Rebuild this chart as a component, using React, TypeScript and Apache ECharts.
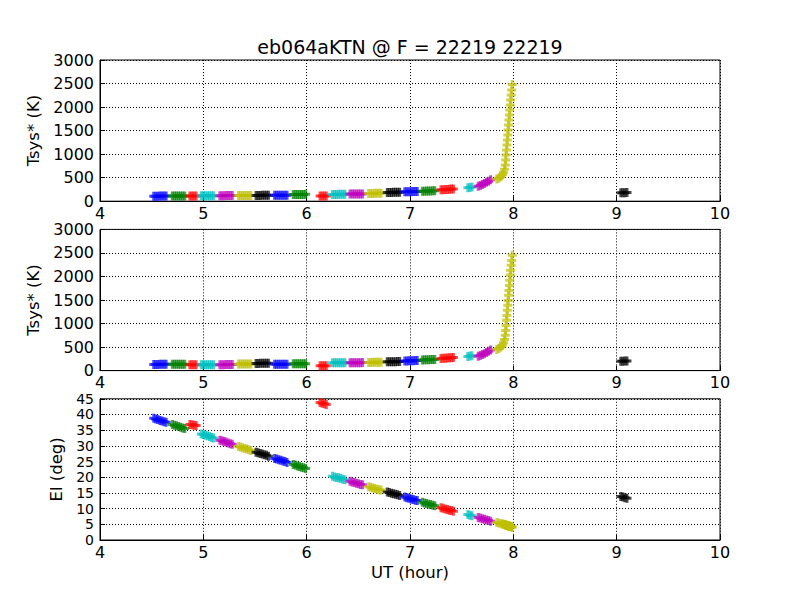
import React, { useEffect, useRef } from "react";
import * as echarts from "echarts";

// ---- data ----
const TITLE = "eb064aKTN @ F = 22219 22219";
const X_LABEL = "UT (hour)";
const Y_LABEL_TSYS = "Tsys* (K)";
const Y_LABEL_EL = "El (deg)";

// matplotlib colour cycle b, g, r, c, m, y, k
const SCAN_COLORS = ["#0000ff", "#008000", "#ff0000", "#00bfbf", "#bf00bf", "#bfbf00", "#000000"];

// UT (hours) of each sample, one array per scan
const UT_SCANS: number[][] = [
  [4.52, 4.54, 4.56, 4.58, 4.6, 4.62, 4.64],
  [4.7, 4.72, 4.74, 4.76, 4.78, 4.8, 4.82],
  [4.87, 4.89, 4.91, 4.93],
  [4.98, 5.0, 5.02, 5.04, 5.06, 5.08, 5.1],
  [5.16, 5.18, 5.2, 5.22, 5.24, 5.26, 5.28],
  [5.34, 5.36, 5.38, 5.4, 5.42, 5.44, 5.46],
  [5.51, 5.53, 5.55, 5.57, 5.59, 5.61, 5.63],
  [5.69, 5.71, 5.73, 5.75, 5.77, 5.79, 5.81],
  [5.87, 5.89, 5.91, 5.93, 5.95, 5.97, 5.99],
  [6.13, 6.15, 6.17, 6.19],
  [6.25, 6.27, 6.29, 6.31, 6.33, 6.35, 6.37],
  [6.42, 6.44, 6.46, 6.48, 6.5, 6.52, 6.54],
  [6.6, 6.62, 6.64, 6.66, 6.68, 6.7, 6.72],
  [6.78, 6.8, 6.82, 6.84, 6.86, 6.88, 6.9],
  [6.95, 6.97, 6.99, 7.01, 7.03, 7.05, 7.07],
  [7.12, 7.14, 7.16, 7.18, 7.2, 7.22, 7.24],
  [7.3, 7.32, 7.34, 7.36, 7.38, 7.4, 7.42],
  [7.56, 7.58, 7.6],
  [7.66, 7.68, 7.7, 7.72, 7.74, 7.76, 7.78],
  [7.84, 7.86, 7.88, 7.895, 7.905, 7.915, 7.922, 7.926, 7.93, 7.934, 7.938, 7.942, 7.946, 7.95, 7.954, 7.958, 7.962, 7.966, 7.97, 7.974, 7.979, 7.984, 7.99],
  [9.04, 9.06, 9.08, 9.1],
];

// Tsys* (K), upper panel
const TSYS_1: number[][] = [
  [105, 106, 107, 108, 109, 110, 111],
  [108, 109, 109, 110, 110, 111, 111],
  [108, 108, 109, 109],
  [115, 116, 116, 117, 117, 118, 118],
  [117, 118, 118, 119, 119, 120, 120],
  [120, 121, 121, 122, 122, 123, 123],
  [122, 123, 123, 124, 124, 125, 125],
  [124, 125, 125, 126, 126, 127, 127],
  [140, 141, 142, 143, 144, 145, 146],
  [112, 112, 113, 113],
  [144, 145, 145, 146, 146, 147, 147],
  [151, 152, 152, 153, 154, 154, 155],
  [164, 165, 166, 167, 168, 169, 170],
  [185, 186, 187, 188, 189, 190, 191],
  [199, 200, 201, 203, 204, 205, 206],
  [212, 213, 215, 217, 218, 220, 221],
  [243, 245, 248, 251, 254, 257, 260],
  [285, 292, 300],
  [320, 335, 355, 375, 400, 425, 455],
  [470, 490, 520, 560, 610, 680, 769, 875, 981, 1088, 1194, 1300, 1406, 1513, 1619, 1725, 1831, 1937, 2044, 2150, 2256, 2362, 2480],
  [180, 181, 182, 183],
];

// Tsys* (K), middle panel
const TSYS_2: number[][] = [
  [130, 131, 132, 133, 134, 135, 136],
  [133, 133, 134, 134, 134, 135, 135],
  [124, 124, 125, 125],
  [123, 124, 124, 125, 125, 126, 126],
  [125, 126, 126, 127, 127, 128, 128],
  [138, 139, 139, 140, 140, 141, 141],
  [152, 153, 154, 155, 155, 156, 156],
  [133, 133, 134, 134, 135, 135, 136],
  [145, 146, 146, 147, 147, 148, 148],
  [103, 103, 104, 104],
  [165, 166, 167, 168, 168, 169, 169],
  [166, 167, 167, 168, 169, 169, 170],
  [173, 174, 175, 176, 177, 178, 179],
  [186, 187, 188, 189, 190, 191, 192],
  [205, 206, 208, 209, 211, 212, 213],
  [226, 228, 230, 232, 234, 236, 237],
  [259, 262, 265, 268, 271, 274, 277],
  [300, 308, 316],
  [305, 320, 340, 360, 385, 410, 440],
  [450, 470, 500, 540, 590, 660, 750, 850, 960, 1070, 1170, 1280, 1390, 1490, 1600, 1700, 1810, 1920, 2030, 2130, 2240, 2340, 2450],
  [200, 201, 202, 203],
];

// Elevation (deg), lower panel
const ELEVATION: number[][] = [
  [38.8, 38.6, 38.4, 38.1, 37.9, 37.7, 37.5],
  [36.8, 36.6, 36.4, 36.2, 35.9, 35.7, 35.5],
  [36.8, 36.7, 36.6, 36.5],
  [33.8, 33.6, 33.4, 33.2, 33.0, 32.7, 32.5],
  [31.8, 31.6, 31.4, 31.2, 30.9, 30.7, 30.5],
  [29.8, 29.6, 29.4, 29.2, 29.0, 28.8, 28.5],
  [28.0, 27.8, 27.6, 27.4, 27.2, 27.0, 26.7],
  [26.0, 25.8, 25.6, 25.4, 25.2, 25.0, 24.7],
  [24.1, 23.9, 23.6, 23.4, 23.2, 23.0, 22.8],
  [43.8, 43.6, 43.4, 43.2],
  [20.3, 20.1, 19.9, 19.8, 19.6, 19.4, 19.2],
  [18.7, 18.5, 18.3, 18.1, 17.9, 17.7, 17.6],
  [17.0, 16.8, 16.6, 16.4, 16.2, 16.0, 15.9],
  [15.3, 15.1, 14.9, 14.7, 14.6, 14.4, 14.2],
  [13.7, 13.5, 13.3, 13.1, 12.9, 12.7, 12.6],
  [12.0, 11.8, 11.6, 11.4, 11.3, 11.1, 10.9],
  [10.3, 10.1, 9.9, 9.7, 9.5, 9.4, 9.2],
  [8.1, 7.9, 7.7],
  [7.2, 7.0, 6.8, 6.6, 6.4, 6.2, 6.0],
  [5.6, 5.4, 5.2, 5.1, 5.0, 4.9, 4.8, 4.8, 4.7, 4.7, 4.6, 4.6, 4.6, 4.5, 4.5, 4.4, 4.4, 4.4, 4.3, 4.3, 4.2, 4.2, 4.1],
  [13.9, 13.7, 13.5, 13.3],
];

const X_MIN = 4;
const X_MAX = 10;
const TSYS_MAX = 3000;
const TSYS_STEP = 500;
const EL_MAX = 45;
const EL_STEP = 5;

// ---- presentation ----
const FONT = "DejaVu Sans";
const PLUS = "path://M3,0H6V3H9V6H6V9H3V6H0V3H3Z";
const GRID_TOPS = [60, 229.4, 398.8];
const GRID_H = 141.2;

function buildOption() {
  const grid = GRID_TOPS.map((top) => ({
    left: 100,
    width: 620,
    top,
    height: GRID_H,
    show: true,
    borderColor: "#000",
    borderWidth: 1,
    backgroundColor: "transparent",
  }));

  const splitLine = { show: true, lineStyle: { color: "#000", width: 1, type: [1, 2] } };
  const axisLine = { show: true, lineStyle: { color: "#000", width: 1 } };
  const axisTick = { show: true, inside: true, length: 5, lineStyle: { color: "#000" } };

  const xAxis = GRID_TOPS.map((_, i) => ({
    type: "value",
    gridIndex: i,
    min: X_MIN,
    max: X_MAX,
    interval: 1,
    axisLine,
    axisTick,
    splitLine,
    axisLabel: { margin: 4, fontSize: 16, color: "#000", fontFamily: FONT },
    name: i === 2 ? X_LABEL : "",
    nameLocation: "middle",
    nameGap: 24,
    nameTextStyle: { fontSize: 16.5, color: "#000", fontFamily: FONT },
  }));

  const yAxis = GRID_TOPS.map((_, i) => ({
    type: "value",
    gridIndex: i,
    min: 0,
    max: i === 2 ? EL_MAX : TSYS_MAX,
    interval: i === 2 ? EL_STEP : TSYS_STEP,
    axisLine,
    axisTick,
    splitLine,
    axisLabel: {
      margin: 6,
      fontSize: i === 2 ? 14 : 16,
      lineHeight: i === 2 ? 13 : 18,
      color: "#000",
      fontFamily: FONT,
      showMinLabel: true,
      showMaxLabel: true,
      hideOverlap: false,
      formatter: (v: number) => String(v),
    },
    name: i === 2 ? Y_LABEL_EL : Y_LABEL_TSYS,
    nameLocation: "middle",
    nameRotate: 90,
    nameGap: i === 2 ? 32 : 48,
    nameTextStyle: { fontSize: 16.5, color: "#000", fontFamily: FONT },
  }));

  const panels = [TSYS_1, TSYS_2, ELEVATION];
  const series: any[] = [];
  panels.forEach((vals, p) => {
    UT_SCANS.forEach((times, s) => {
      series.push({
        type: "scatter",
        xAxisIndex: p,
        yAxisIndex: p,
        silent: true,
        symbol: PLUS,
        symbolSize: 9,
        itemStyle: { color: SCAN_COLORS[s % SCAN_COLORS.length], opacity: 0.7 },
        data: times.map((t, j) => [t, vals[s][j]]),
      });
    });
  });

  return {
    animation: false,
    backgroundColor: "#fff",
    grid,
    xAxis,
    yAxis,
    series,
    graphic: [
      {
        type: "text",
        x: 410,
        y: 47,
        style: {
          text: TITLE,
          align: "center",
          verticalAlign: "middle",
          fontSize: 19,
          fontFamily: FONT,
          fill: "#000",
        },
      },
    ],
  };
}

export default function App() {
  const ref = useRef<HTMLDivElement>(null);
  useEffect(() => {
    if (!ref.current) return;
    const chart = echarts.init(ref.current, undefined, { renderer: "svg" });
    chart.setOption(buildOption() as any);
    return () => chart.dispose();
  }, []);
  return (
    <div
      ref={ref}
      style={{ position: "fixed", left: 0, top: 0, width: 800, height: 600, background: "#fff" }}
    />
  );
}
